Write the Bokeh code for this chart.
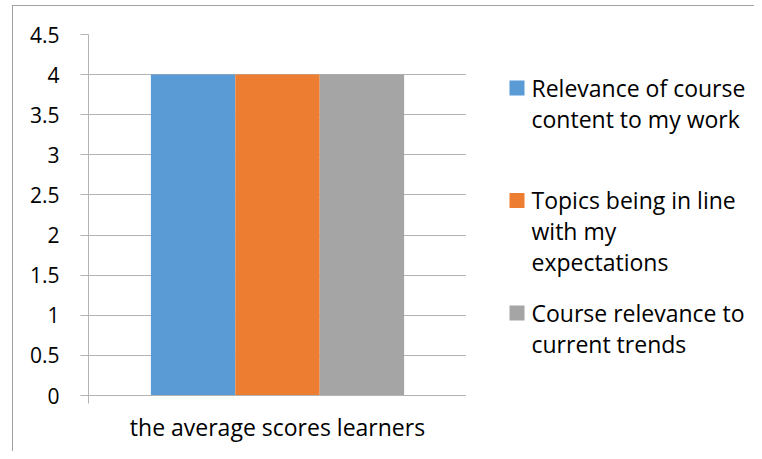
from bokeh.plotting import figure
from bokeh.layouts import row
from bokeh.models import (FixedTicker, NumeralTickFormatter, ColumnDataSource, Range1d)
from bokeh.core.properties import value
from bokeh.embed import file_html
from bokeh.resources import INLINE

# ---- data ----
category = "the average scores learners"
series = [
    ["Relevance of course", "content to my work"],
    ["Topics being in line", "with my", "expectations"],
    ["Course relevance to", "current trends"],
]
values = [4, 4, 4]
colors = ["#5B9BD5", "#ED7D31", "#A5A5A5"]
y_ticks = [0, 0.5, 1, 1.5, 2, 2.5, 3, 3.5, 4, 4.5]

FONT = "Open Sans"
GRID = "#B3B3B3"
B_TOP, B_BOTTOM, FH = 28, 56, 361
H = B_TOP + FH + B_BOTTOM

# ---------------- main chart ----------------
p = figure(output_backend="svg", toolbar_location=None,
           frame_width=378, frame_height=FH,
           x_range=(0, 1), y_range=(0, 4.5),
           min_border_left=75, min_border_top=B_TOP,
           min_border_bottom=B_BOTTOM, min_border_right=0)
p.outline_line_color = None
p.background_fill_color = "white"
p.border_fill_color = "white"

bar_w = 0.2233
for i, (v, c) in enumerate(zip(values, colors)):
    src = ColumnDataSource(dict(x=[0.5 + (i - 1) * bar_w], top=[v]))
    p.vbar(x="x", top="top", bottom=0, width=bar_w, source=src,
           fill_color=c, line_color=None)

# y axis
p.yaxis.ticker = FixedTicker(ticks=y_ticks)
p.yaxis.formatter = NumeralTickFormatter(format="0.[0]")
p.yaxis.axis_line_color = GRID
p.yaxis.major_tick_line_color = GRID
p.yaxis.major_tick_out = 8
p.yaxis.major_tick_in = 0
p.yaxis.minor_tick_line_color = None
p.yaxis.major_label_standoff = 21
p.yaxis.major_label_text_font = FONT
p.yaxis.major_label_text_font_size = "21px"
p.yaxis.major_label_text_color = "black"

# x axis
p.xaxis.ticker = FixedTicker(ticks=[0, 1])
p.xaxis.major_label_text_font_size = "0px"
p.xaxis.axis_line_color = GRID
p.xaxis.major_tick_line_color = GRID
p.xaxis.major_tick_out = 8
p.xaxis.major_tick_in = 0
p.xaxis.minor_tick_line_color = None
p.xaxis.axis_label = category
p.xaxis.axis_label_text_font = FONT
p.xaxis.axis_label_text_font_size = "23px"
p.xaxis.axis_label_text_font_style = "normal"
p.xaxis.axis_label_text_color = "black"
p.xaxis.axis_label_standoff = 7

p.xgrid.grid_line_color = None
p.ygrid.ticker = FixedTicker(ticks=y_ticks)
p.ygrid.grid_line_color = GRID

# ---------------- legend panel ----------------
# its frame lines up with the chart's frame; ranges are in canvas pixels (y downwards)
LW = 288
leg = figure(output_backend="svg", toolbar_location=None,
             frame_width=LW, frame_height=FH,
             x_range=Range1d(0, LW), y_range=Range1d(H - B_BOTTOM, B_TOP),
             x_axis_location=None, y_axis_location=None,
             min_border_left=0, min_border_right=0,
             min_border_top=B_TOP, min_border_bottom=B_BOTTOM)
leg.outline_line_color = None
leg.xgrid.visible = False
leg.ygrid.visible = False
leg.background_fill_color = "white"
leg.border_fill_color = "white"

SW_X, SW, TOP0, PITCH, LINE, TXT_DY = 43, 15, 74, 112.5, 31, -8
sq = dict(x=[], y=[], c=[])
tx = dict(x=[], y=[], t=[])
for i, (lines, c) in enumerate(zip(series, colors)):
    top = TOP0 + i * PITCH
    sq["x"].append(SW_X + SW / 2)
    sq["y"].append(top + SW / 2)
    sq["c"].append(c)
    for j, line in enumerate(lines):
        tx["x"].append(SW_X + SW + 7)
        tx["y"].append(top + SW + j * LINE + TXT_DY)
        tx["t"].append(line)
leg.rect(x="x", y="y", width=SW, height=SW, fill_color="c", line_color=None,
         source=ColumnDataSource(sq))
leg.text(x="x", y="y", text="t", source=ColumnDataSource(tx),
         text_font=value(FONT), text_font_size="23px", text_color="black",
         text_align="left", text_baseline="alphabetic")

layout = row(p, leg)
layout.styles = {"border-left": "1px solid #A0A0A0", "border-top": "1px solid #A0A0A0",
                 "margin-left": "12px", "margin-top": "5px"}

open("out.html", "w").write(file_html(layout, INLINE))
